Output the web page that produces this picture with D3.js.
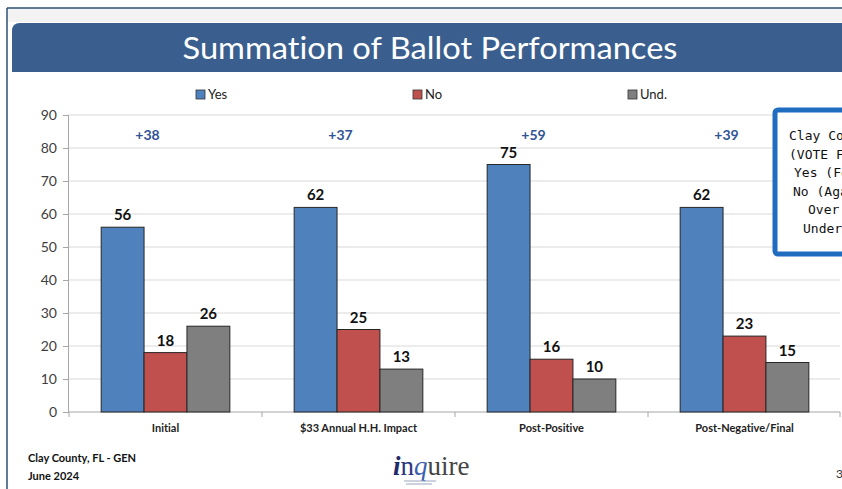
<!DOCTYPE html>
<html>
<head>
<meta charset="utf-8">
<script src="https://cdn.jsdelivr.net/npm/d3@7"></script>
<style>
  body { margin: 0; background: #fff; }
  svg { display: block; font-family: Lato, "Open Sans", sans-serif; font-variant-ligatures: none; }
</style>
</head>
<body>
<svg id="chart"></svg>
<script>
// chart data
const categories = ["Initial", "$33 Annual H.H. Impact", "Post-Positive", "Post-Negative/Final"];
const series = ["Yes", "No", "Und."];
const yesValues = [56, 62, 75, 62];
const noValues = [18, 25, 16, 23];
const undValues = [26, 13, 10, 15];
const marginLabels = ["+38", "+37", "+59", "+39"];
const yTicks = [0, 10, 20, 30, 40, 50, 60, 70, 80, 90];
const boxLines = ["Clay County Sales Tax", "(VOTE FOR ONE)", "Yes (For Tax)", "No (Against Tax)", "Over Votes", "Under Votes"];

const colors = {"Yes": "#4f81bd", "No": "#c0504d", "Und.": "#7f7f7f"};
const W = 842, H = 489;

var svg = d3.select("#chart").attr("width", W).attr("height", H);

// slide frame
svg.append("rect").attr("x", 7).attr("y", 8).attr("width", W).attr("height", 14).attr("fill", "#f3f3f3");
svg.append("line").attr("x1", 7).attr("x2", W).attr("y1", 8).attr("y2", 8).attr("stroke", "#2e4f75").attr("stroke-width", 1.5);
svg.append("line").attr("x1", 7).attr("x2", 7).attr("y1", 8).attr("y2", H).attr("stroke", "#2e4f75").attr("stroke-width", 1.5);

// title bar, rounded on the left
svg.append("path")
    .attr("d", "M12,31 Q12,23 20,23 L" + W + ",23 L" + W + ",72 L12,72 Z")
    .attr("fill", "#3a5f8f");
svg.append("text")
    .attr("x", 430).attr("y", 59)
    .attr("text-anchor", "middle")
    .attr("fill", "#fff")
    .attr("font-size", 30)
    .attr("textLength", 495)
    .attr("lengthAdjust", "spacingAndGlyphs")
    .text("Summation of Ballot Performances");

// scales
var x0 = d3.scaleBand().domain(categories).range([69, 841]).padding(0);
var x1 = d3.scaleBand().domain(series).range([0, x0.bandwidth()]).paddingInner(0).paddingOuter(0.75);
var y = d3.scaleLinear().domain([0, 90]).range([412, 115]);

// gridlines
svg.append("g")
    .selectAll("line")
    .data(yTicks.slice(1))
    .enter().append("line")
    .attr("x1", 68).attr("x2", 840)
    .attr("y1", d => y(d)).attr("y2", d => y(d))
    .attr("stroke", "#d9d9d9");

// y axis
var yAxis = svg.append("g")
    .attr("transform", "translate(68,0)")
    .call(d3.axisLeft(y).tickValues(yTicks).tickSize(5).tickPadding(6));
yAxis.select(".domain").attr("stroke", "#a6a6a6");
yAxis.selectAll(".tick line").attr("stroke", "#a6a6a6");
yAxis.selectAll(".tick text").attr("font-size", 14).attr("fill", "#404040").attr("font-family", "Lato, sans-serif");

// x axis
var xAxis = svg.append("g")
    .attr("transform", "translate(0," + y(0) + ")");
xAxis.append("line").attr("x1", 68).attr("x2", 840).attr("stroke", "#a6a6a6");
xAxis.selectAll("line.tk")
    .data(categories.concat(["end"]))
    .enter().append("line")
    .attr("class", "tk")
    .attr("x1", (d, i) => i < categories.length ? x0(d) : x0.range()[1] - 1)
    .attr("x2", (d, i) => i < categories.length ? x0(d) : x0.range()[1] - 1)
    .attr("y1", 0).attr("y2", 5)
    .attr("stroke", "#a6a6a6");
xAxis.selectAll("text")
    .data(categories)
    .enter().append("text")
    .attr("x", d => x0(d) + x0.bandwidth() / 2)
    .attr("y", 20)
    .attr("text-anchor", "middle")
    .attr("font-size", 11)
    .attr("font-weight", "bold")
    .attr("fill", "#222")
    .text(d => d);

// bars
var rows = categories.map(function (c, i) {
    return {cat: c, values: [
        {key: "Yes", value: yesValues[i]},
        {key: "No", value: noValues[i]},
        {key: "Und.", value: undValues[i]}
    ]};
});

var groups = svg.append("g")
    .selectAll("g")
    .data(rows)
    .enter().append("g")
    .attr("transform", d => "translate(" + x0(d.cat) + ",0)");

groups.selectAll("rect")
    .data(d => d.values)
    .enter().append("rect")
    .attr("x", d => x1(d.key))
    .attr("y", d => y(d.value))
    .attr("width", x1.bandwidth())
    .attr("height", d => y(0) - y(d.value))
    .attr("fill", d => colors[d.key])
    .attr("stroke", "#262626")
    .attr("stroke-width", 1);

groups.selectAll("text.val")
    .data(d => d.values)
    .enter().append("text")
    .attr("class", "val")
    .attr("x", d => x1(d.key) + x1.bandwidth() / 2)
    .attr("y", d => y(d.value) - 7)
    .attr("text-anchor", "middle")
    .attr("font-size", 15)
    .attr("font-weight", "bold")
    .attr("fill", "#111")
    .text(d => d.value);

// margin labels over each group
svg.append("g")
    .selectAll("text")
    .data(categories)
    .enter().append("text")
    .attr("x", d => x0(d) + x0.bandwidth() / 2 - 18)
    .attr("y", y(84) + 5)
    .attr("text-anchor", "middle")
    .attr("font-size", 14)
    .attr("font-weight", "bold")
    .attr("fill", "#2f5496")
    .text((d, i) => marginLabels[i]);

// legend
var legendX = {"Yes": 196, "No": 413, "Und.": 628};
var legend = svg.append("g")
    .selectAll("g")
    .data(series)
    .enter().append("g")
    .attr("transform", d => "translate(" + legendX[d] + ",90)");
legend.append("rect")
    .attr("width", 9).attr("height", 9)
    .attr("fill", d => colors[d])
    .attr("stroke", "#333").attr("stroke-width", 0.8);
legend.append("text")
    .attr("x", 12).attr("y", 9)
    .attr("font-size", 13)
    .attr("fill", "#222")
    .text(d => d);

// ballot box on the right (cut by the slide edge, as in the slide)
svg.append("rect")
    .attr("x", 775).attr("y", 110)
    .attr("width", 120).attr("height", 144)
    .attr("rx", 3)
    .attr("fill", "#fff")
    .attr("stroke", "#1f6cc0")
    .attr("stroke-width", 5);
var boxX = [789, 789, 794, 793, 808, 803];
svg.append("g")
    .selectAll("text")
    .data(boxLines)
    .enter().append("text")
    .attr("x", (d, i) => boxX[i])
    .attr("y", (d, i) => 140 + i * 18.5)
    .attr("font-family", "'DejaVu Sans Mono', monospace")
    .attr("font-size", 13)
    .attr("fill", "#111")
    .text(d => d);

// footer
svg.append("text").attr("x", 28).attr("y", 462)
    .attr("font-size", 11).attr("font-weight", "bold").attr("fill", "#111")
    .text("Clay County, FL - GEN");
svg.append("text").attr("x", 28).attr("y", 480)
    .attr("font-size", 11).attr("font-weight", "bold").attr("fill", "#111")
    .text("June 2024");
svg.append("text").attr("x", 836).attr("y", 478)
    .attr("font-size", 12).attr("fill", "#333")
    .text("3");

// logo
var logo = svg.append("text")
    .attr("x", 393).attr("y", 475)
    .attr("font-family", "'Liberation Serif', 'DejaVu Serif', serif")
    .attr("font-size", 27);
logo.append("tspan").attr("fill", "#1f2a6b").attr("font-style", "italic").attr("font-weight", "bold").text("i");
logo.append("tspan").attr("fill", "#2a3580").text("n");
logo.append("tspan").attr("fill", "#3d5fb0").attr("font-style", "italic").text("q");
logo.append("tspan").attr("fill", "#444").text("uire");
svg.append("line").attr("x1", 404).attr("x2", 436).attr("y1", 481).attr("y2", 481).attr("stroke", "#9aa4c0").attr("stroke-width", 1);
svg.append("line").attr("x1", 406).attr("x2", 432).attr("y1", 484).attr("y2", 484).attr("stroke", "#9aa4c0").attr("stroke-width", 1);
</script>
</body>
</html>
